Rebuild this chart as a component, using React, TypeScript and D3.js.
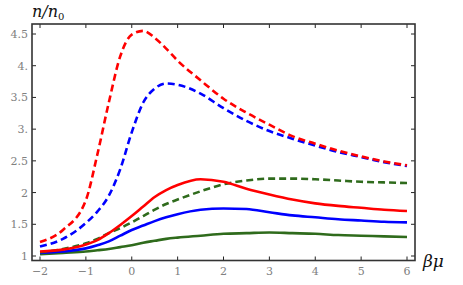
import * as d3 from 'd3';
import React from 'react';

// beta*mu sample points shared by all curves
const xs = [-2, -1.5, -1, -0.75, -0.5, -0.25, 0, 0.25, 0.5, 0.75, 1, 1.5, 2, 2.5, 3, 3.5, 4, 4.5, 5, 5.5, 6];

const redDashed = [1.22, 1.41, 1.88, 2.6, 3.42, 4.15, 4.49, 4.55, 4.44, 4.27, 4.08, 3.77, 3.48, 3.26, 3.07, 2.89, 2.77, 2.66, 2.57, 2.49, 2.43];
const blueDashed = [1.15, 1.27, 1.52, 1.7, 1.95, 2.37, 2.95, 3.42, 3.64, 3.72, 3.7, 3.56, 3.33, 3.13, 2.97, 2.85, 2.74, 2.64, 2.56, 2.48, 2.42];
const greenDashed = [1.06, 1.11, 1.2, 1.27, 1.36, 1.44, 1.53, 1.63, 1.73, 1.82, 1.89, 2.02, 2.13, 2.19, 2.22, 2.22, 2.21, 2.19, 2.17, 2.16, 2.15];
const redSolid = [1.07, 1.1, 1.18, 1.25, 1.36, 1.49, 1.63, 1.78, 1.93, 2.04, 2.12, 2.21, 2.17, 2.06, 1.97, 1.89, 1.83, 1.79, 1.76, 1.73, 1.71];
const blueSolid = [1.05, 1.07, 1.12, 1.17, 1.23, 1.32, 1.41, 1.48, 1.55, 1.61, 1.66, 1.73, 1.75, 1.74, 1.69, 1.64, 1.61, 1.58, 1.56, 1.54, 1.53];
const greenSolid = [1.03, 1.05, 1.07, 1.09, 1.11, 1.14, 1.17, 1.21, 1.24, 1.27, 1.29, 1.32, 1.35, 1.36, 1.37, 1.36, 1.35, 1.33, 1.32, 1.31, 1.3];

const xTicks = [-2, -1, 0, 1, 2, 3, 4, 5, 6];
const xTickLabels = ['\u22122', '\u22121', '0', '1', '2', '3', '4', '5', '6'];
const yTicks = [1, 1.5, 2, 2.5, 3, 3.5, 4, 4.5];
const yTickLabels = ['1', '1.5', '2', '2.5', '3.', '3.5', '4.', '4.5'];

const RED = '#ff0000';
const BLUE = '#0000ff';
const GREEN = '#2f6b1c';
const SERIF = 'DejaVu Serif';

export default function App() {
  const width = 463;
  const height = 285;
  const frame = { left: 32, right: 415, top: 24, bottom: 260.5 };

  const x = d3.scaleLinear().domain([-2, 6]).range([40, 407]);
  const y = d3.scaleLinear().domain([1, 4.5]).range([256, 34]);

  const line = d3
    .line<number>()
    .x((_, i) => x(xs[i]))
    .y((d) => y(d))
    .curve(d3.curveMonotoneX);

  const series = [
    { vals: greenSolid, color: GREEN, dash: null },
    { vals: blueSolid, color: BLUE, dash: null },
    { vals: greenDashed, color: GREEN, dash: '7,4' },
    { vals: redSolid, color: RED, dash: null },
    { vals: blueDashed, color: BLUE, dash: '7,4' },
    { vals: redDashed, color: RED, dash: '7,4' },
  ];

  const tickLen = 4;

  return (
    <svg width={width} height={height} style={{ position: 'absolute', left: 0, top: 0 }}>
      <rect width={width} height={height} fill="#fff" />
      <defs>
        <clipPath id="plotclip">
          <rect x={frame.left} y={frame.top} width={frame.right - frame.left} height={frame.bottom - frame.top} />
        </clipPath>
      </defs>
      <g clipPath="url(#plotclip)">
        {series.map((s, i) => (
          <path
            key={i}
            d={line(s.vals) || ''}
            fill="none"
            stroke={s.color}
            strokeWidth={2.6}
            strokeDasharray={s.dash || undefined}
          />
        ))}
      </g>
      {/* ticks */}
      {xTicks.map((t) => (
        <g key={'xt' + t}>
          <line x1={x(t)} x2={x(t)} y1={frame.bottom} y2={frame.bottom - tickLen} stroke="#222" strokeWidth={1} />
          <line x1={x(t)} x2={x(t)} y1={frame.top} y2={frame.top + tickLen} stroke="#222" strokeWidth={1} />
        </g>
      ))}
      {yTicks.map((t) => (
        <g key={'yt' + t}>
          <line x1={frame.left} x2={frame.left + tickLen} y1={y(t)} y2={y(t)} stroke="#222" strokeWidth={1} />
          <line x1={frame.right} x2={frame.right - tickLen} y1={y(t)} y2={y(t)} stroke="#222" strokeWidth={1} />
        </g>
      ))}
      <rect
        x={frame.left}
        y={frame.top}
        width={frame.right - frame.left}
        height={frame.bottom - frame.top}
        fill="none"
        stroke="#333"
        strokeWidth={1.6}
      />
      <g fontFamily={SERIF} fontSize={11} fill="#808080">
        {xTicks.map((t, i) => (
          <text key={'xl' + t} x={x(t)} y={275} textAnchor="middle">
            {xTickLabels[i]}
          </text>
        ))}
        {yTicks.map((t, i) => (
          <text key={'yl' + t} x={28} y={y(t) + 4} textAnchor="end">
            {yTickLabels[i]}
          </text>
        ))}
      </g>
      <text x={32} y={17} fontFamily={SERIF} fontSize={16} fontStyle="italic" fill="#111">
        n/n
        <tspan fontSize={10} fontStyle="normal" dy={3}>0</tspan>
      </text>
      <text x={423} y={267} fontFamily={SERIF} fontSize={17} fontStyle="italic" fill="#111">
        βμ
      </text>
    </svg>
  );
}
